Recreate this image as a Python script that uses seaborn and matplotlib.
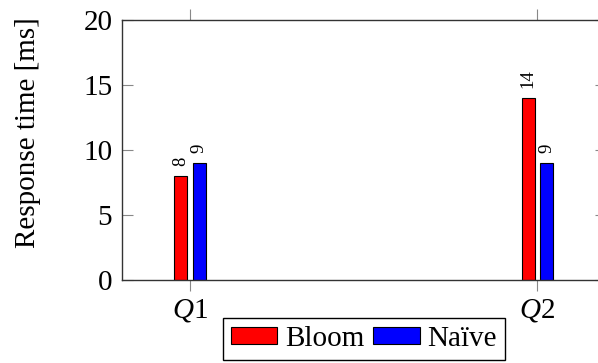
import matplotlib
matplotlib.use("Agg")
import matplotlib.pyplot as plt
import seaborn as sns
import pandas as pd

# Response times per query for the two lookup strategies
queries = ["$Q$1", "$Q$2"]
methods = ["Bloom", "Naïve"]
bloom_ms = [8, 14]
naive_ms = [9, 9]
y_ticks = [0, 5, 10, 15, 20]

df = pd.DataFrame({
    "query": queries * 2,
    "method": [methods[0]] * len(queries) + [methods[1]] * len(queries),
    "time": bloom_ms + naive_ms,
})

sns.set_theme(style="white")
plt.rcParams["font.family"] = ["Liberation Serif", "DejaVu Serif"]
plt.rcParams["mathtext.fontset"] = "custom"
plt.rcParams["mathtext.rm"] = "Liberation Serif"
plt.rcParams["mathtext.it"] = "Liberation Serif:italic"
plt.rcParams["text.color"] = "black"
plt.rcParams["axes.labelcolor"] = "black"
plt.rcParams["xtick.labelcolor"] = "black"
plt.rcParams["ytick.labelcolor"] = "black"

fig = plt.figure(figsize=(5.98, 3.63), dpi=100)
ax = fig.add_axes([122 / 598, 83 / 363, 483.5 / 598, 260 / 363])

sns.barplot(
    data=df, x="query", y="time", hue="method",
    palette={"Bloom": "#ff0000", "Naïve": "#0000ff"}, saturation=1,
    width=0.107, gap=0.3, errorbar=None,
    edgecolor="black", linewidth=0.8, ax=ax,
)

for cont in ax.containers:
    ax.bar_label(cont, fmt="%g", rotation=90, padding=7, fontsize=13.5,
                 color="black")

ax.set_xlim(-0.196, 1.196)
ax.set_ylim(0, 20)
ax.set_yticks(y_ticks)
ax.set_xlabel("")
ax.set_ylabel("Response time [ms]", fontsize=21, color="black")
ax.yaxis.set_label_coords(-0.168, 0.565)

for s in ax.spines.values():
    s.set_visible(True)
    s.set_color("#333333")
    s.set_linewidth(1.0)

ax.tick_params(axis="y", direction="in", left=True, right=True, length=8,
               width=0.8, color="#888888", labelsize=21, pad=7,
               labelcolor="black")
ax.tick_params(axis="x", direction="out", bottom=True, top=True, length=8,
               width=0.8, color="#888888", labelsize=21, pad=4,
               labelcolor="black")

leg = ax.legend(
    loc="upper center", bbox_to_anchor=(0.5, -0.146), ncol=2,
    fontsize=21, frameon=True, fancybox=False, framealpha=1,
    edgecolor="black", handlelength=1.6, handleheight=0.52,
    handletextpad=0.26, columnspacing=0.3, borderpad=0.28,
    borderaxespad=0,
)
leg.get_frame().set_linewidth(1.0)
for t in leg.get_texts():
    t.set_color("black")

fig.savefig("out.png", dpi=100)
